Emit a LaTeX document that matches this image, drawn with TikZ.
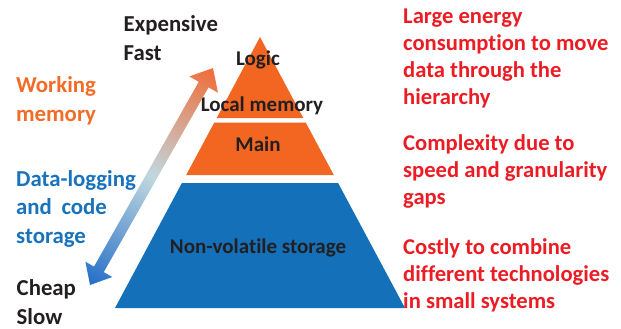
\documentclass[tikz,border=0pt]{standalone}
\usepackage{fontspec}
\setmainfont{Carlito}[Ligatures=NoCommon]
\usetikzlibrary{calc}

\definecolor{pyrOrange}{RGB}{242,102,34}
\definecolor{pyrBlue}{RGB}{19,112,185}
\definecolor{noteRed}{RGB}{236,28,36}
\definecolor{inkBlack}{RGB}{35,31,32}
\definecolor{memOrange}{RGB}{242,108,40}
\definecolor{memBlue}{RGB}{24,114,188}
\definecolor{arrTop}{RGB}{240,108,56}
\definecolor{arrMid}{RGB}{192,216,222}
\definecolor{arrBot}{RGB}{36,110,200}

\tikzset{
  side/.style={inner sep=0pt, anchor=base west, align=left,
    font=\fontsize{22.8bp}{28.6bp}\selectfont\bfseries},
  note/.style={side, text=noteRed,
    font=\fontsize{22.6bp}{26.7bp}\selectfont\bfseries},
  layer/.style={inner sep=0pt, anchor=base, text=inkBlack,
    font=\fontsize{21bp}{25bp}\selectfont\bfseries},
}

\begin{document}
\begin{tikzpicture}[x=1bp, y=-1bp]
\useasboundingbox (0,0) rectangle (621,328);

% pyramid layers
\fill[pyrOrange] (260,37) -- (303.3,118) -- (216.7,118) -- cycle;
\fill[pyrOrange] (214.3,122.5) -- (305.7,122.5) -- (333.8,175) -- (186.2,175) -- cycle;
\fill[pyrBlue] (181.9,183) -- (338.1,183) -- (405,308) -- (115,308) -- cycle;

\node[layer] (logic) at (258,65) {Logic};
\node[layer] (local) at (262,111.7) {Local memory};
\node[layer] (main) at (258,151.7) {Main};
\node[layer] (nvs) at (258,253) {Non-volatile storage};

% cost / speed gradient arrow
\coordinate (cheapTip) at (90,285);
\coordinate (fastTip) at (213,68);
\begin{scope}[transform canvas={shift={(cheapTip)}, rotate=60.45}]
  \shade[left color=arrBot, right color=arrTop, middle color=arrMid]
    (0,0) -- (18,15.5) -- (18,5.6) -- (230.4,5.6) -- (230.4,16.5)
    -- (249.4,0) -- (230.4,-16.5) -- (230.4,-5.6) -- (18,-5.6)
    -- (18,-15.5) -- cycle;
\end{scope}

% left-hand labels (anchored at the baseline of their last line)
\node[side, text=inkBlack] (exp) at (123.5,60) {Expensive\\Fast};
\node[side, text=memOrange] (work) at (16,121) {Working\\memory};
\node[side, text=memBlue] (dlog) at (16,243.3) {Data-logging\\and\hspace{0.42em}code\\storage};
\node[side, text=inkBlack] (cheap) at (16.5,324) {Cheap\\Slow};

% right-hand notes
\node[note] (n1) at (403,104) {Large energy\\consumption to move\\data through the\\hierarchy};
\node[note] (n2) at (403,204) {Complexity due to\\speed and granularity\\gaps};
\node[note] (n3) at (403,308.3) {Costly to combine\\different technologies\\in small systems};
\end{tikzpicture}
\end{document}
